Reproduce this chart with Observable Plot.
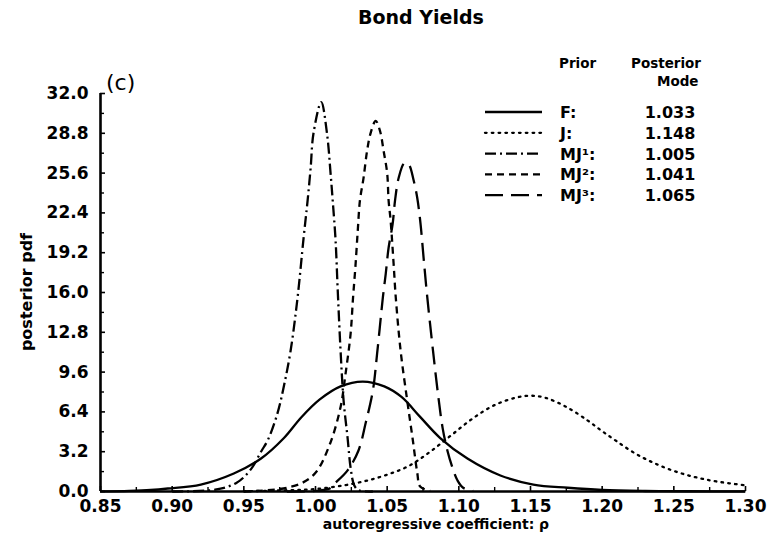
<!DOCTYPE html>
<html><head><meta charset="utf-8">
<script src="https://cdn.jsdelivr.net/npm/d3@7"></script>
<script src="https://cdn.jsdelivr.net/npm/@observablehq/plot@0.6"></script>
<style>html,body{margin:0;padding:0;background:#fff}svg{display:block}</style>
</head><body><div id="chart"></div>
<script>
const title = "Bond Yields";
const panelLabel = "(c)";
const xLabel = "autoregressive coefficient: ρ";
const yLabel = "posterior pdf";
const xTicks = [0.85, 0.90, 0.95, 1.00, 1.05, 1.10, 1.15, 1.20, 1.25, 1.30];
const xMinorTicks = [0.875, 0.925, 0.975, 1.025, 1.075, 1.125, 1.175, 1.225, 1.275];
const yTicks = [0, 3.2, 6.4, 9.6, 12.8, 16.0, 19.2, 22.4, 25.6, 28.8, 32.0];
const yMinorTicks = [1.6, 4.8, 8.0, 11.2, 14.4, 17.6, 20.8, 24.0, 27.2, 30.4];

const priorNames = ["F", "J", "MJ1", "MJ2", "MJ3"];
const priorLabels = ["F:", "J:", "MJ¹:", "MJ²:", "MJ³:"];
const posteriorModes = ["1.033", "1.148", "1.005", "1.041", "1.065"];

const rhoF = [0.85, 0.87, 0.885, 0.897, 0.92, 0.943, 0.962, 0.978, 0.99, 1.003, 1.0175, 1.033, 1.048, 1.06, 1.073, 1.087, 1.106, 1.129, 1.152, 1.176, 1.20, 1.23, 1.26, 1.30];
const pdfF = [0.01, 0.05, 0.12, 0.24, 0.56, 1.45, 2.65, 4.3, 5.95, 7.4, 8.45, 8.84, 8.45, 7.6, 6.0, 4.3, 2.65, 1.29, 0.56, 0.3, 0.12, 0.04, 0.02, 0.01];

const rhoJ = [0.95, 0.98, 1.00, 1.02, 1.035, 1.05, 1.065, 1.08, 1.095, 1.11, 1.125, 1.14, 1.15, 1.16, 1.175, 1.19, 1.20, 1.21, 1.222, 1.235, 1.25, 1.265, 1.28, 1.30];
const pdfJ = [0.02, 0.1, 0.2, 0.5, 0.85, 1.35, 2.05, 3.2, 4.55, 5.9, 6.95, 7.55, 7.7, 7.55, 6.8, 5.7, 4.85, 4.05, 3.13, 2.35, 1.65, 1.15, 0.8, 0.5];

const rhoMJ1 = [0.90, 0.93, 0.945, 0.955, 0.962, 0.967, 0.9735, 0.978, 0.9826, 0.9875, 0.9917, 0.9945, 0.9966, 0.9986, 1.004, 1.008, 1.0105, 1.012, 1.014, 1.0155, 1.0175, 1.0196, 1.0224, 1.0245, 1.027, 1.03, 1.04];
const pdfMJ1 = [0.0, 0.15, 0.7, 1.8, 3.2, 4.2, 6.3, 8.5, 11.3, 15.6, 20.4, 23.4, 26.0, 28.8, 31.3, 28.8, 25.6, 23.4, 20.2, 16.2, 11.3, 7.3, 4.3, 1.9, 0.5, 0.1, 0.0];

const rhoMJ2 = [0.95, 0.96, 0.975, 0.98, 0.99, 1.00, 1.01, 1.0175, 1.021, 1.0245, 1.0262, 1.0278, 1.0295, 1.031, 1.0335, 1.036, 1.0384, 1.042, 1.045, 1.0475, 1.05, 1.051, 1.0524, 1.0545, 1.056, 1.0594, 1.064, 1.0677, 1.071, 1.073, 1.08];
const pdfMJ2 = [0.0, 0.05, 0.2, 0.3, 0.65, 1.5, 3.8, 6.8, 9.5, 12.7, 15.6, 18.0, 21.0, 23.4, 25.2, 27.4, 28.8, 29.8, 29.0, 27.4, 25.6, 23.4, 21.8, 18.3, 15.6, 11.3, 7.3, 4.3, 1.5, 0.4, 0.05];

const rhoMJ3 = [0.98, 1.00, 1.01, 1.013, 1.0224, 1.03, 1.035, 1.04, 1.043, 1.047, 1.049, 1.051, 1.0538, 1.0555, 1.058, 1.062, 1.065, 1.0685, 1.071, 1.0733, 1.0754, 1.078, 1.082, 1.0855, 1.0887, 1.092, 1.0956, 1.099, 1.103, 1.11];
const pdfMJ3 = [0.0, 0.05, 0.25, 0.6, 1.7, 3.3, 5.5, 8.1, 11.1, 15.6, 17.5, 19.6, 21.5, 23.4, 25.2, 26.4, 26.3, 25.0, 23.6, 21.5, 18.8, 15.6, 11.3, 7.8, 5.1, 3.3, 1.9, 0.9, 0.3, 0.05];

const seriesX = [rhoF, rhoJ, rhoMJ1, rhoMJ2, rhoMJ3];
const seriesY = [pdfF, pdfJ, pdfMJ1, pdfMJ2, pdfMJ3];
const dashes = [null, "1.6,5.2", "11,4,2,4", "7,5", "18,8"];

const series = priorNames.map((name, i) => seriesX[i].map((x, j) => ({prior: name, rho: x, pdf: seriesY[i][j]})));

const W = 780, H = 549;
const font = "DejaVu Sans";

const lineMarks = series.map((rows, i) => Plot.line(rows, {
  x: "rho", y: "pdf", stroke: "black", strokeWidth: 2.3,
  strokeDasharray: dashes[i] || undefined,
  strokeLinecap: i === 1 ? "round" : "butt",
  curve: "catmull-rom"
}));

const plot = Plot.plot({
  width: W, height: H,
  marginLeft: 100, marginRight: 35, marginTop: 93, marginBottom: 58,
  style: {fontFamily: font, fontSize: "17px", fontWeight: "bold", color: "black", background: "white"},
  x: {domain: [0.85, 1.30]},
  y: {domain: [0, 32]},
  marks: [
    ...lineMarks,
    Plot.ruleX([0.85], {strokeWidth: 2.6}),
    Plot.ruleY([0], {strokeWidth: 2.6}),
    Plot.axisX({ticks: xTicks, tickSize: -5, strokeWidth: 1.6, tickPadding: 13, tickFormat: d3.format(".2f"), label: null, fontSize: 17}),
    Plot.axisX({ticks: xMinorTicks, tickSize: -4, strokeWidth: 1.4, tickFormat: () => "", label: null}),
    Plot.axisY({ticks: yTicks, tickSize: -5, strokeWidth: 1.6, tickPadding: 17, tickFormat: d3.format(".1f"), label: null, fontSize: 17}),
    Plot.axisY({ticks: yMinorTicks, tickSize: -4, strokeWidth: 1.4, tickFormat: () => "", label: null})
  ]
});

const svg = d3.select(plot);
// title
svg.append("text").attr("x", 421).attr("y", 24).attr("text-anchor", "middle")
  .attr("font-family", font).attr("font-weight", "bold").attr("font-size", 19).text(title);
// panel label
svg.append("text").attr("x", 106).attr("y", 90).attr("text-anchor", "start")
  .attr("font-family", font).attr("font-weight", "normal").attr("font-size", 22).text(panelLabel);
// axis labels
svg.append("text").attr("x", 436).attr("y", 529).attr("text-anchor", "middle")
  .attr("font-family", font).attr("font-weight", "bold").attr("font-size", 14).text(xLabel);
svg.append("text").attr("transform", "translate(32,292) rotate(-90)").attr("text-anchor", "middle")
  .attr("font-family", font).attr("font-weight", "bold").attr("font-size", 16).text(yLabel);

// legend
const lg = svg.append("g").attr("font-family", font).attr("text-anchor", "start").attr("font-weight", "bold");
lg.append("text").attr("x", 559).attr("y", 68).attr("font-size", 13.5).text("Prior");
lg.append("text").attr("x", 631).attr("y", 68).attr("font-size", 13.5).text("Posterior");
lg.append("text").attr("x", 657).attr("y", 86).attr("font-size", 13.5).text("Mode");
priorNames.forEach((name, i) => {
  const y = 112 + i * 20.8;
  lg.append("line").attr("x1", 485).attr("x2", 542).attr("y1", y).attr("y2", y)
    .attr("stroke", "black").attr("stroke-width", 2.3)
    .attr("stroke-dasharray", dashes[i]).attr("stroke-linecap", i === 1 ? "round" : "butt");
  lg.append("text").attr("x", 560).attr("y", y + 6).attr("font-size", 16).text(priorLabels[i]);
  lg.append("text").attr("x", 670).attr("y", y + 6).attr("text-anchor", "middle").attr("font-size", 16).text(posteriorModes[i]);
});

document.getElementById("chart").appendChild(plot);
</script>
</body></html>
